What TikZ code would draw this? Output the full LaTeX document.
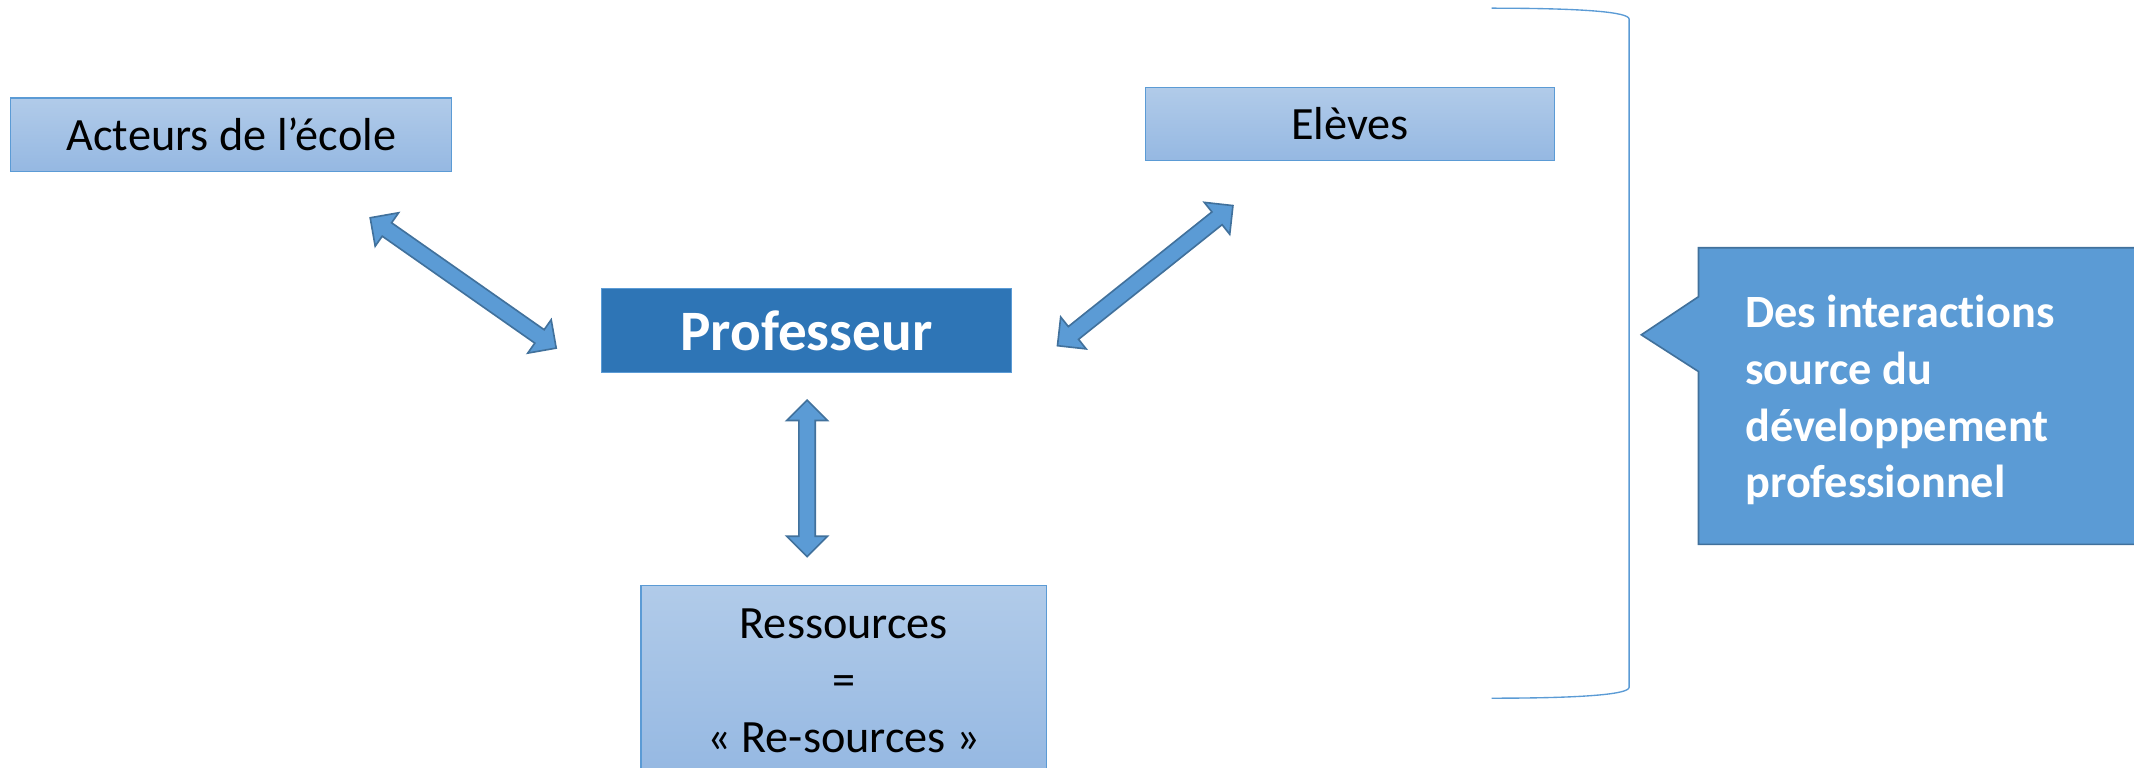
\documentclass[tikz,border=0pt]{standalone}
\usepackage{fontspec}
\setmainfont{Carlito}[Ligatures=CommonOff]
\usetikzlibrary{calc}
\definecolor{boxtop}{HTML}{B1CBE9}
\definecolor{boxbottom}{HTML}{95B8E2}
\definecolor{boxline}{HTML}{5B9BD5}
\definecolor{profblue}{HTML}{2E75B6}
\definecolor{arrowblue}{HTML}{5B9BD5}
\definecolor{arrowline}{HTML}{41719C}
\tikzset{
  lightbox/.style={draw=boxline, top color=boxtop, bottom color=boxbottom, inner sep=0pt, align=center, font=\fontsize{17}{21}\selectfont},
  profbox/.style={draw=boxline, fill=profblue, text=white, inner sep=0pt, font=\fontsize{21}{26}\selectfont\bfseries},
  blockarrowstyle/.style={draw=arrowline, fill=arrowblue, line width=0.6pt, line join=miter},
  bracketline/.style={draw=boxline, line width=0.5pt},
  calloutbox/.style={draw=arrowline, fill=arrowblue, line width=0.6pt},
  callouttext/.style={text=white, inner sep=0pt, align=left, font=\fontsize{17}{20.8}\selectfont\bfseries},
}
\newcommand\headlen{7.5pt}
\newcommand\headwid{7.5pt}
\newcommand\shaftwid{3pt}
\newcommand\blockarrow[2]{%
  \draw[blockarrowstyle] let \p1=($(#2)-(#1)$), \n1={atan2(\y1,\x1)}, \n2={veclen(\x1,\y1)} in
    [shift={(#1)}, rotate=\n1]
    (0pt,0pt) -- (\headlen,\headwid) -- (\headlen,\shaftwid) -- (\n2-\headlen,\shaftwid)
    -- (\n2-\headlen,\headwid) -- (\n2,0pt) -- (\n2-\headlen,-\headwid) -- (\n2-\headlen,-\shaftwid)
    -- (\headlen,-\shaftwid) -- (\headlen,-\headwid) -- cycle;}
\begin{document}
\begin{tikzpicture}[x=0.5pt, y=-0.5pt]
    \useasboundingbox (0,0) rectangle (1568,564);
    \node [lightbox, minimum width=162pt, minimum height=27pt] (acteurs) at (170,99) {Acteurs de l’école};
    \node [lightbox, minimum width=150pt, minimum height=27pt] (eleves) at (992,91) {Elèves};
    \node [profbox, minimum width=150.5pt, minimum height=31pt] (prof) at (592.5,243) {Professeur};
    \node [lightbox, minimum width=149pt, minimum height=70pt] (ressources) at (620,500) {Ressources\\=\\« Re-sources »};
    \coordinate (acteurs-tip) at (272,160);
    \coordinate (prof-tip-left) at (409,256);
    \coordinate (eleves-tip) at (906,151);
    \coordinate (prof-tip-right) at (777,254);
    \coordinate (prof-tip-down) at (593,294);
    \coordinate (ressources-tip) at (593,409);
    \foreach \s/\t in {acteurs-tip/prof-tip-left, prof-tip-right/eleves-tip, prof-tip-down/ressources-tip}
        \blockarrow{\s}{\t};
    \draw [bracketline] (1096,6) .. controls (1165,6) and (1197,9) .. (1197,14) -- (1197,505)
        .. controls (1197,510) and (1165,513) .. (1096,513);
    \draw [calloutbox] (1248,182) -- (1580,182) -- (1580,400) -- (1248,400) -- (1248,273)
        -- (1206,246) -- (1248,218) -- cycle;
    \node [callouttext, anchor=west] (interactions) at (1282,294) {Des interactions\\source du\\développement\\professionnel};
\end{tikzpicture}
\end{document}
